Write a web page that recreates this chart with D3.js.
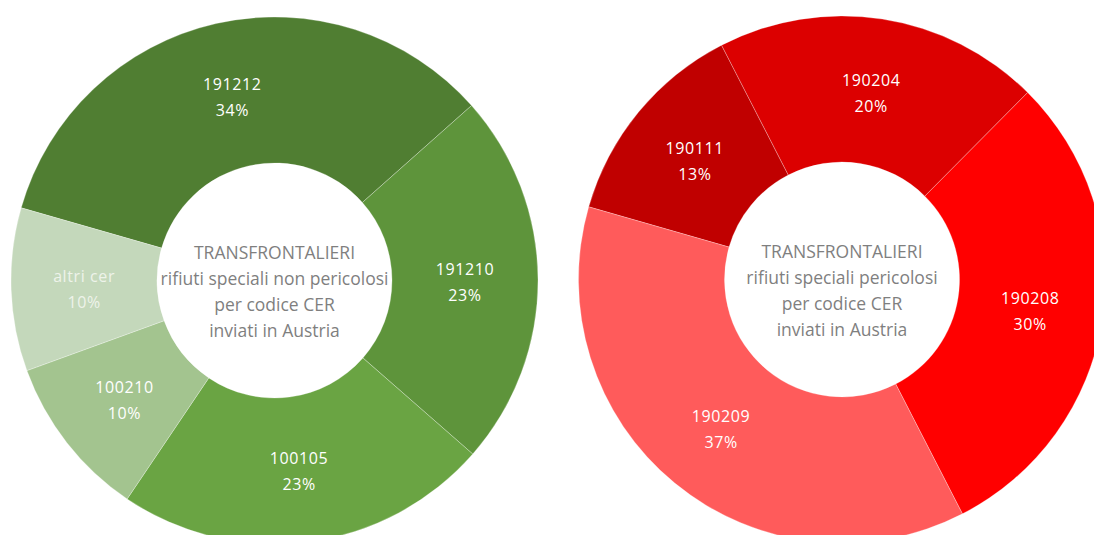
<!DOCTYPE html>
<html>
<head>
<meta charset="utf-8">
<script src="https://cdn.jsdelivr.net/npm/d3@7"></script>
<style>
html,body{margin:0;padding:0;background:#fff;}
svg{display:block;}
</style>
</head>
<body>
<svg id="chart" width="1094" height="535"></svg>
<script>
// Data
const leftCategories = ["191212", "191210", "100105", "100210", "altri cer"];
const leftValues = [34, 23, 23, 10, 10];
const leftColors = ["#507e32", "#5e943b", "#6aa443", "#a3c48f", "#c4d8bb"];
const leftTitle = ["TRANSFRONTALIERI", "rifiuti speciali non pericolosi", "per codice CER", "inviati in Austria"];

const rightCategories = ["190111", "190204", "190208", "190209"];
const rightValues = [13, 20, 30, 37];
const rightColors = ["#c00000", "#dc0000", "#ff0000", "#ff5b5b"];
const rightTitle = ["TRANSFRONTALIERI", "rifiuti speciali pericolosi", "per codice CER", "inviati in Austria"];

const svg = d3.select("#chart");
const outerR = 263.5, innerR = 117.5;
const startA = -74 * Math.PI / 180;

function donut(cx, cy, cats, vals, colors, title) {
  const total = d3.sum(vals);
  const data = cats.map((c, i) => ({cat: c, val: vals[i], color: colors[i]}));
  const pie = d3.pie().value(d => d.val).sort(null)
    .startAngle(startA).endAngle(startA + 2 * Math.PI);
  const arc = d3.arc().innerRadius(innerR).outerRadius(outerR);
  const g = svg.append("g").attr("transform", `translate(${cx},${cy})`);
  const arcs = pie(data);
  g.selectAll("path").data(arcs).join("path")
    .attr("d", arc)
    .attr("fill", d => d.data.color)
    .attr("stroke", "rgba(255,255,255,0.35)")
    .attr("stroke-width", 0.8);
  const lbl = g.selectAll("g.lbl").data(arcs).join("g").attr("class", "lbl")
    .attr("transform", d => `translate(${arc.centroid(d)})`);
  const fill = d => d.data.cat === "altri cer" ? "#eef3ea" : "#ffffff";
  lbl.append("text")
    .attr("text-anchor", "middle")
    .attr("y", -5)
    .attr("fill", fill)
    .style("font-family", "'Open Sans', sans-serif")
    .style("font-size", "16px")
    .style("letter-spacing", "0.6px")
    .text(d => d.data.cat);
  lbl.append("text")
    .attr("text-anchor", "middle")
    .attr("y", 21)
    .attr("fill", fill)
    .style("font-family", "'Open Sans', sans-serif")
    .style("font-size", "16px")
    .style("letter-spacing", "0.6px")
    .text(d => Math.round(d.data.val / total * 100) + "%");
  const t = g.append("text")
    .attr("text-anchor", "middle")
    .attr("fill", "#7f7f7f")
    .style("font-family", "'Open Sans', sans-serif")
    .style("font-size", "17.5px");
  title.forEach((line, i) => {
    t.append("tspan").attr("x", 0).attr("y", -22 + i * 26).text(line);
  });
}

donut(274.5, 280.5, leftCategories, leftValues, leftColors, leftTitle);
donut(842, 279.5, rightCategories, rightValues, rightColors, rightTitle);
</script>
</body>
</html>
